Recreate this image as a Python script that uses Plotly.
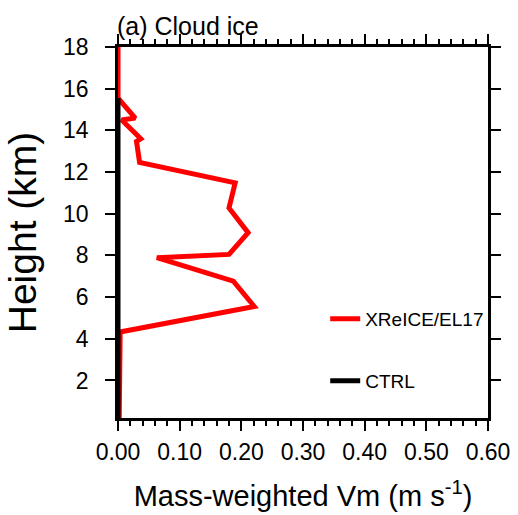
import plotly.graph_objects as go

# Data
height_xrelice = [0.2, 4.33, 5.55, 6.77, 7.89, 8.05, 9.09, 10.28, 11.48, 12.46, 13.47, 13.6, 14.5, 14.59, 15.55, 18.0]
vm_xrelice = [0.002, 0.0035, 0.221, 0.187, 0.063, 0.18, 0.211, 0.18, 0.19, 0.035, 0.03, 0.037, 0.006, 0.028, 0.0, 0.0]

height_ctrl = [0.2, 4.0, 8.0, 12.0, 15.55]
vm_ctrl = [0.0, 0.0, 0.0, 0.0, 0.0]

x_ticks = [0.0, 0.1, 0.2, 0.3, 0.4, 0.5, 0.6]
y_ticks = [2, 4, 6, 8, 10, 12, 14, 16, 18]

FONT = "Liberation Sans, Arial, Helvetica, sans-serif"

fig = go.Figure()
fig.add_trace(go.Scatter(
    x=vm_xrelice, y=height_xrelice, mode="lines", name="XReICE/EL17",
    line=dict(color="#ff0000", width=5), legend="legend"))
fig.add_trace(go.Scatter(
    x=vm_ctrl, y=height_ctrl, mode="lines", name="CTRL",
    line=dict(color="#000000", width=5), legend="legend2"))

axis_common = dict(
    showline=True, linecolor="black", linewidth=2.5, mirror="allticks",
    ticks="outside", ticklen=10, tickwidth=2, tickcolor="black",
    showgrid=False, zeroline=False, automargin=False,
    tickfont=dict(family=FONT, size=23, color="black"),
)

fig.update_xaxes(
    range=[0, 0.6], tickvals=x_ticks, tickformat=".2f",
    minor=dict(dtick=0.02, ticks="outside", ticklen=5, tickwidth=1.5, tickcolor="black"),
    ticklabelstandoff=2,
    title=dict(text="Mass-weighted Vm (m s<sup>-1</sup>)",
               font=dict(family=FONT, size=29, color="black"), standoff=22),
    **axis_common)
fig.update_yaxes(
    range=[0.2, 18], tickvals=y_ticks,
    ticklabelstandoff=12,
    title=dict(text="Height (km)", font=dict(family=FONT, size=39, color="black"), standoff=15),
    **axis_common)

legend_common = dict(
    bgcolor="rgba(0,0,0,0)", borderwidth=0,
    font=dict(family=FONT, size=19, color="black"),
    xanchor="left", yanchor="middle", x=0.56,
)

fig.update_layout(
    width=518, height=515,
    margin=dict(l=118, r=30, t=47, b=97, autoexpand=False),
    plot_bgcolor="white", paper_bgcolor="white",
    showlegend=True,
    legend=dict(y=0.267, **legend_common),
    legend2=dict(y=0.0997, **legend_common),
    annotations=[dict(
        text="(a) Cloud ice", xref="paper", yref="paper", x=0, y=1,
        xanchor="left", yanchor="bottom", yshift=5, xshift=-3, showarrow=False,
        font=dict(family=FONT, size=25, color="black"))],
)

fig.write_html("out.html")
